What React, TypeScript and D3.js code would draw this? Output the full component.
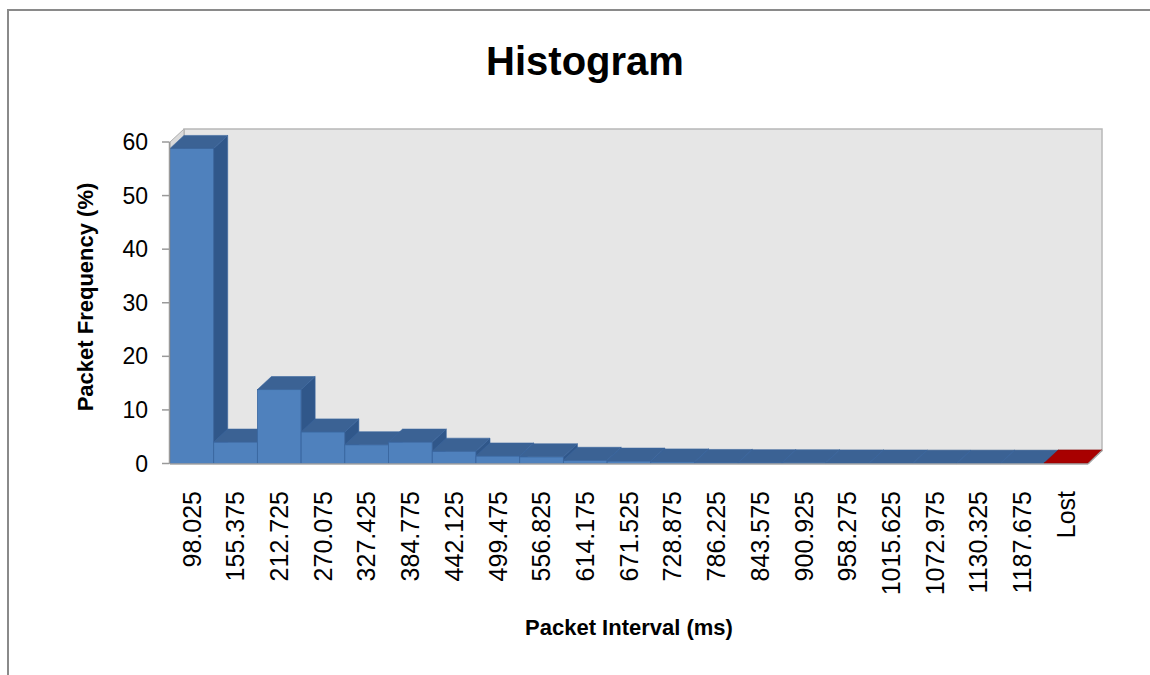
import React from "react";
import * as d3 from "d3";

const categories = [
  "98.025", "155.375", "212.725", "270.075", "327.425", "384.775", "442.125",
  "499.475", "556.825", "614.175", "671.525", "728.875", "786.225", "843.575",
  "900.925", "958.275", "1015.625", "1072.975", "1130.325", "1187.675", "Lost",
];
const frequency = [
  58.8, 4.0, 13.8, 5.9, 3.5, 4.0, 2.3, 1.4, 1.25, 0.6, 0.45, 0.3, 0.2, 0.15,
  0.12, 0.1, 0.08, 0.06, 0.05, 0.04, 0.1,
];
const yTicks = [0, 10, 20, 30, 40, 50, 60];
const lostCategory = "Lost";

const W = 1150;
const H = 675;
const DX = 14;
const DY = -13;

export default function App() {
  const x = d3.scaleBand<string>().domain(categories).range([170, 1088]).padding(0);
  const y = d3.scaleLinear().domain([0, 60]).range([463.5, 142]);
  const y0 = y(0);
  const yTop = y(60);
  const xL = 170;
  const xR = 1088;

  const pts = (p: [number, number][]) => p.map((d) => d.join(",")).join(" ");

  return (
    <svg
      width={W}
      height={H}
      style={{ position: "absolute", left: 0, top: 0, background: "#fff" }}
      fontFamily="'Liberation Sans', Arial, sans-serif"
    >
      {/* outer frame */}
      <rect x={8} y={10} width={W + 20} height={H + 20} fill="#fff" stroke="#8a8a8a" strokeWidth={2} />

      {/* title */}
      <text x={585} y={75} textAnchor="middle" fontSize={40} fontWeight="bold" fill="#000">
        Histogram
      </text>

      {/* back wall */}
      <rect x={xL + DX} y={yTop + DY} width={xR - xL} height={y0 - yTop} fill="#e6e6e6" stroke="#b8b8b8" strokeWidth={1.5} />
      {/* side wall */}
      <polygon
        points={pts([[xL, yTop], [xL + DX, yTop + DY], [xL + DX, y0 + DY], [xL, y0]])}
        fill="#dadada"
        stroke="#b0b0b0"
        strokeWidth={1}
      />
      {/* floor */}
      <polygon
        points={pts([[xL, y0], [xL + DX, y0 + DY], [xR + DX, y0 + DY], [xR, y0]])}
        fill="#d0d0d0"
        stroke="#a0a0a0"
        strokeWidth={1}
      />

      {/* bars */}
      {categories.map((c, i) => {
        const v = frequency[i];
        const bx0 = x(c)!;
        const bx1 = bx0 + x.bandwidth();
        const by = y(v);
        const lost = c === lostCategory;
        const front = lost ? "#c00000" : "#4f81bd";
        const top = lost ? "#a80000" : "#3b6294";
        const side = lost ? "#8c0000" : "#30578a";
        const edge = lost ? "#900000" : "#3a67a0";
        return (
          <g key={c}>
            <rect x={bx0} y={by} width={bx1 - bx0} height={y0 - by} fill={front} stroke={edge} strokeWidth={0.8} />
            <polygon
              points={pts([[bx0, by], [bx0 + DX, by + DY], [bx1 + DX, by + DY], [bx1, by]])}
              fill={top}
              stroke={edge}
              strokeWidth={0.6}
            />
            <polygon
              points={pts([[bx1, by], [bx1 + DX, by + DY], [bx1 + DX, y0 + DY], [bx1, y0]])}
              fill={side}
              stroke={edge}
              strokeWidth={0.6}
            />
          </g>
        );
      })}

      {/* front baseline */}
      <line x1={xL} x2={xR} y1={y0 + 0.5} y2={y0 + 0.5} stroke="#a6a6a6" strokeWidth={1.5} />
      <line x1={xR} x2={xR + DX} y1={y0 + 0.5} y2={y0 + DY} stroke="#a6a6a6" strokeWidth={1.5} />

      {/* y axis */}
      <line x1={169.5} x2={169.5} y1={yTop} y2={y0} stroke="#9a9a9a" strokeWidth={1.5} />
      {yTicks.map((t) => (
        <g key={t}>
          <line x1={162} x2={169.5} y1={y(t)} y2={y(t)} stroke="#9a9a9a" strokeWidth={1.5} />
          <text x={148} y={y(t)} dy="0.35em" textAnchor="end" fontSize={23} fill="#000">
            {t}
          </text>
        </g>
      ))}

      {/* x tick labels */}
      {categories.map((c) => (
        <text
          key={c}
          transform={`translate(${x(c)! + x.bandwidth() / 2},491) rotate(-90)`}
          dy="0.35em"
          textAnchor="end"
          fontSize={25}
          fill="#000"
        >
          {c}
        </text>
      ))}

      {/* axis titles */}
      <text x={629} y={635} textAnchor="middle" fontSize={22} fontWeight="bold" fill="#000">
        Packet Interval (ms)
      </text>
      <text transform="translate(93,297) rotate(-90)" textAnchor="middle" fontSize={22} fontWeight="bold" fill="#000">
        Packet Frequency (%)
      </text>
    </svg>
  );
}
